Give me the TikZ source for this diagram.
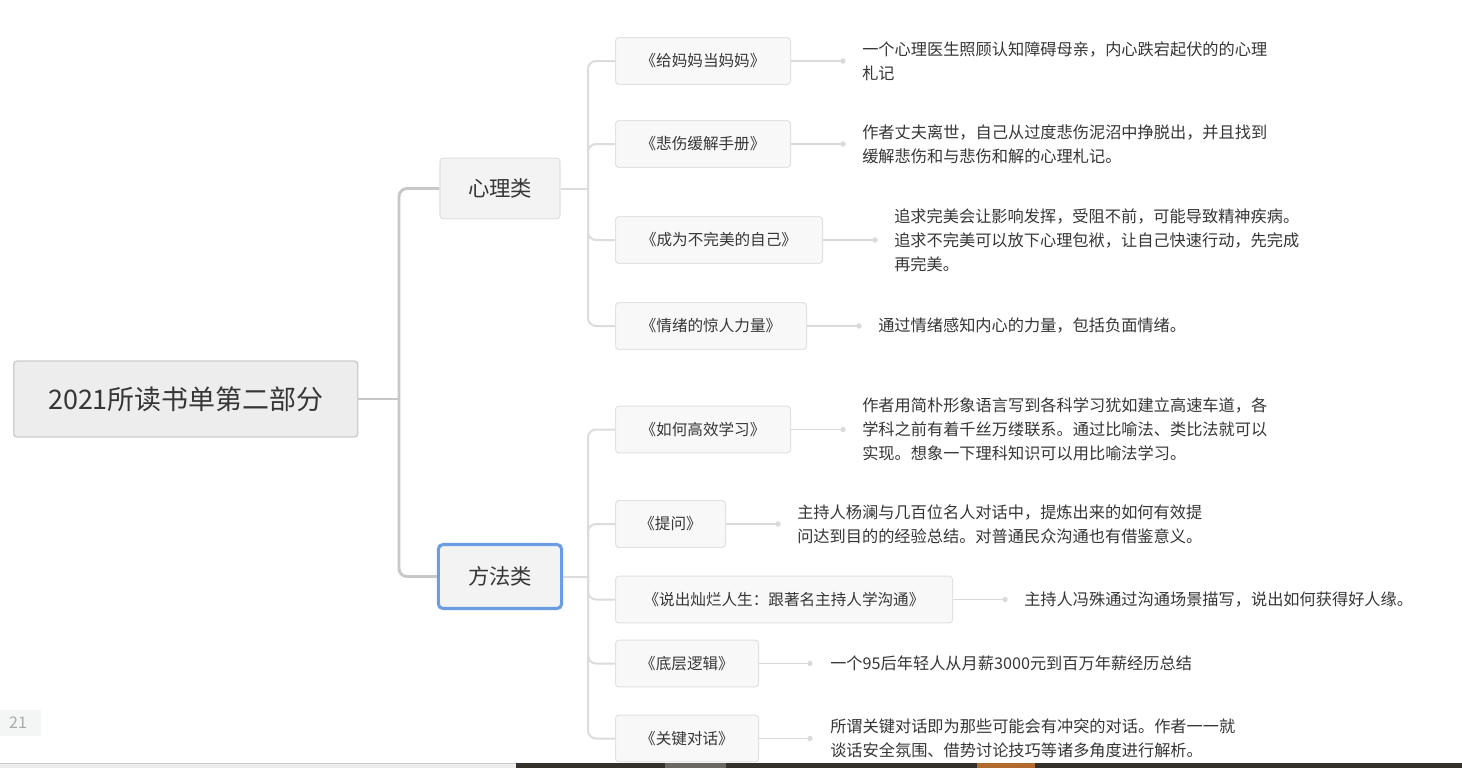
\documentclass[tikz,border=0pt]{standalone}
\usepackage{fontspec}
\setmainfont{Noto Sans CJK SC}
\usetikzlibrary{calc}
\definecolor{txt}{HTML}{363636}
\definecolor{trunk}{HTML}{C8C8C8}
\definecolor{branch}{HTML}{DCDCDC}
\definecolor{leafline}{HTML}{DADADA}
\definecolor{rootfill}{HTML}{EDEDED}
\definecolor{rootdraw}{HTML}{CDCDCD}
\definecolor{catfill}{HTML}{F3F3F3}
\definecolor{catdraw}{HTML}{E0E0E0}
\definecolor{selblue}{HTML}{6A9DE3}
\definecolor{bookfill}{HTML}{F8F8F8}
\definecolor{bookdraw}{HTML}{E2E2E2}
\definecolor{bardark}{HTML}{34312C}
\definecolor{bargray}{HTML}{6A6660}
\definecolor{barorange}{HTML}{B2692C}
\definecolor{barlight}{HTML}{ECECEC}
\definecolor{pgfill}{HTML}{F4F6F6}
\definecolor{pgtext}{HTML}{AAAAAA}
\tikzset{
  rootbox/.style={draw=rootdraw, fill=rootfill, line width=1.1pt, rounded corners=2.5pt,
    minimum width=258pt, minimum height=57pt, anchor=west, text=txt, font=\fontsize{20.2}{24}\selectfont, inner sep=0pt},
  catbox/.style={draw=catdraw, fill=catfill, line width=0.8pt, rounded corners=2.5pt,
    minimum width=90pt, minimum height=45.5pt, text=txt, font=\fontsize{16}{19}\selectfont, inner sep=0pt},
  selbox/.style={draw=selblue, fill=catfill, line width=2.3pt, rounded corners=3.5pt,
    minimum width=92.5pt, minimum height=48pt, text=txt, font=\fontsize{16}{19}\selectfont, inner sep=0pt},
  bookbox/.style={draw=bookdraw, fill=bookfill, line width=0.8pt, rounded corners=2.5pt,
    minimum height=35pt, anchor=west, text=txt, font=\fontsize{11.7}{14}\selectfont, inner sep=0pt},
  desc/.style={anchor=west, align=left, inner sep=0pt, text=txt, font=\fontsize{12.15}{18}\selectfont},
  trunkline/.style={draw=trunk, line width=2.2pt, rounded corners=6pt},
  branchline/.style={draw=branch, line width=1.5pt, rounded corners=6pt},
  leafconn/.style={draw=leafline, line width=1.1pt},
  dotmark/.style={fill=leafline, draw=none},
}
\begin{document}
\begin{tikzpicture}[x=0.75pt, y=-0.75pt]
\useasboundingbox (0,0) rectangle (1462,768);
\fill[white] (0,0) rectangle (1462,768);

% bottom bar
\fill[barlight] (0,763) rectangle (516,768);
\draw[draw=rootdraw, line width=0.8pt] (0,763.5) -- (516,763.5);
\fill[bardark] (516,763) rectangle (1462,768);
\fill[bargray] (665,763) rectangle (726,768);
\fill[barorange] (977,763) rectangle (1035,768);

% page number box
\fill[pgfill] (0,710) rectangle (41,736);
\node[text=pgtext, font=\fontsize{12}{14}\selectfont, inner sep=0pt] (pg) at (18,722.5) {21};

% root
\node[rootbox] (root) at (13,399) {2021所读书单第二部分};
% categories
\node[catbox] (xl) at (500,188.5) {心理类};
\node[selbox] (ff) at (500,576.5) {方法类};

% junctions
\coordinate (J1) at (399,399);
\coordinate (J2) at (588,188.5);
\coordinate (J3) at (588,576.5);

\draw[trunkline] (root.east) -- (J1);
\draw[trunkline] (xl.west) -| (J1) |- (ff.west);

% books
\node[bookbox, minimum width=131.25pt] (b1) at (615,61) {《给妈妈当妈妈》};
\node[bookbox, minimum width=131.25pt] (b2) at (615,144) {《悲伤缓解手册》};
\node[bookbox, minimum width=155.25pt] (b3) at (615,240) {《成为不完美的自己》};
\node[bookbox, minimum width=143.25pt] (b4) at (615,326) {《情绪的惊人力量》};
\node[bookbox, minimum width=131.25pt] (b5) at (615,429.5) {《如何高效学习》};
\node[bookbox, minimum width=82.5pt] (b6) at (615,524) {《提问》};
\node[bookbox, minimum width=252.75pt] (b7) at (615,599.5) {《说出灿烂人生：跟著名主持人学沟通》};
\node[bookbox, minimum width=107.25pt] (b8) at (615,663.5) {《底层逻辑》};
\node[bookbox, minimum width=107.25pt] (b9) at (615,738.5) {《关键对话》};

\draw[branchline] (xl.east) -- (J2);
\foreach \b in {b1,b2,b3,b4} { \draw[branchline] (J2) |- (\b.west); }
\draw[branchline] (ff.east) -- (J3);
\foreach \b in {b5,b6,b7,b8,b9} { \draw[branchline] (J3) |- (\b.west); }

% leaf dots
\coordinate (d1) at (843,61);
\coordinate (d2) at (843,144);
\coordinate (d3) at (875,240);
\coordinate (d4) at (859,326);
\coordinate (d5) at (843,429.5);
\coordinate (d6) at (778,524);
\coordinate (d7) at (1005,599.5);
\coordinate (d8) at (810,663.5);
\coordinate (d9) at (810,738.5);
\foreach \i in {1,...,9} {
  \draw[leafconn] (b\i.east) -- (d\i);
  \fill[dotmark] (d\i) circle (2pt);
}

% descriptions
\node[desc] (t1) at (862,61) {一个心理医生照顾认知障碍母亲，内心跌宕起伏的的心理\\札记};
\node[desc] (t2) at (862,144) {作者丈夫离世，自己从过度悲伤泥沼中挣脱出，并且找到\\缓解悲伤和与悲伤和解的心理札记。};
\node[desc] (t3) at (894,240) {追求完美会让影响发挥，受阻不前，可能导致精神疾病。\\追求不完美可以放下心理包袱，让自己快速行动，先完成\\再完美。};
\node[desc] (t4) at (878,326) {通过情绪感知内心的力量，包括负面情绪。};
\node[desc] (t5) at (862,429.5) {作者用简朴形象语言写到各科学习犹如建立高速车道，各\\学科之前有着千丝万缕联系。通过比喻法、类比法就可以\\实现。想象一下理科知识可以用比喻法学习。};
\node[desc] (t6) at (797,524.5) {主持人杨澜与几百位名人对话中，提炼出来的如何有效提\\问达到目的的经验总结。对普通民众沟通也有借鉴意义。};
\node[desc] (t7) at (1024,599.5) {主持人冯殊通过沟通场景描写，说出如何获得好人缘。};
\node[desc] (t8) at (830,663.5) {一个95后年轻人从月薪3000元到百万年薪经历总结};
\node[desc] (t9) at (830,738) {所谓关键对话即为那些可能会有冲突的对话。作者一一就\\谈话安全氛围、借势讨论技巧等诸多角度进行解析。};
\end{tikzpicture}
\end{document}
